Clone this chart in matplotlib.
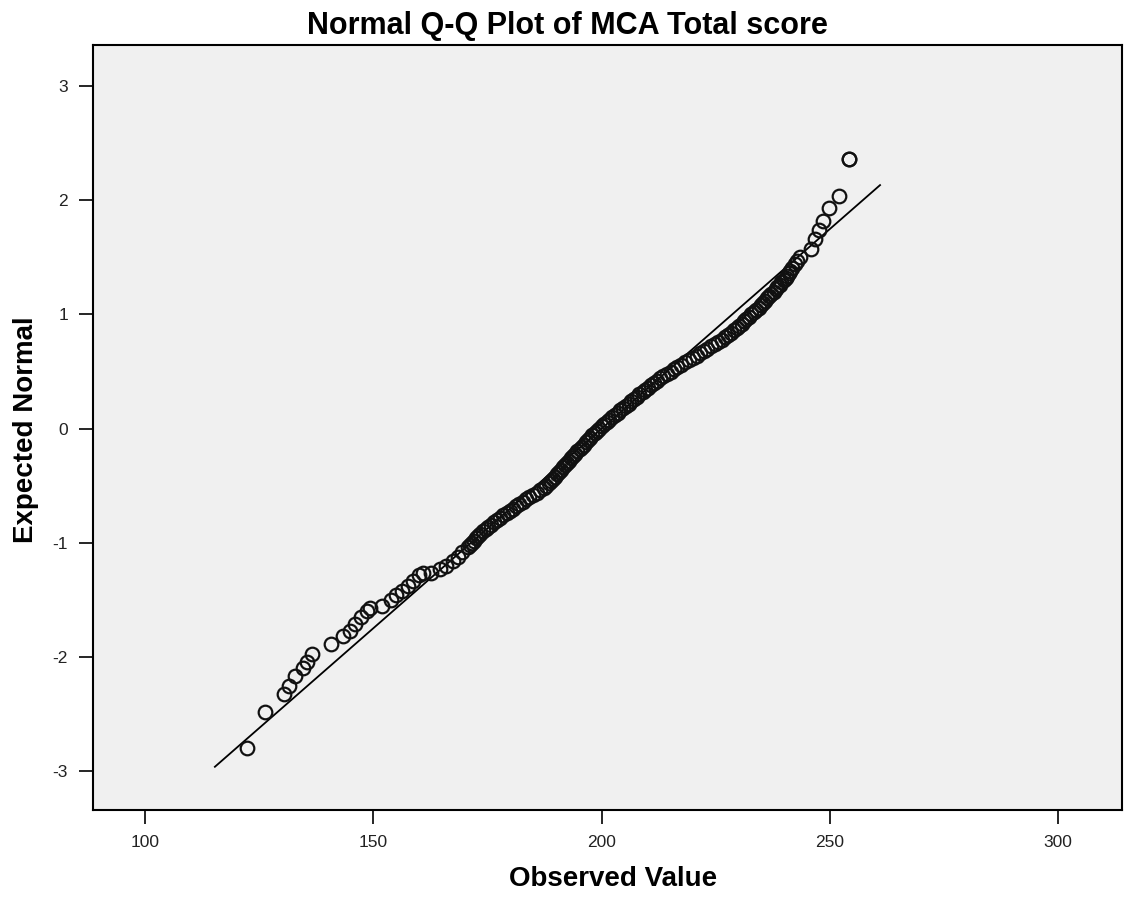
import numpy as np
import matplotlib
matplotlib.use("Agg")
import matplotlib.pyplot as plt

plt.rcParams['axes.unicode_minus'] = False

# observed scores and their expected normal values
observed = [122.3, 126.3, 130.5, 131.5, 132.8, 134.5, 135.4, 136.5, 140.8, 143.3,
            145.0, 146.0, 147.4, 148.6, 149.3, 151.9, 153.8, 155.0, 156.3, 157.6,
            158.8, 160.0, 160.8, 162.6, 164.6, 166.0, 167.4, 168.5, 169.5,
            170.7, 171.2, 171.6, 172.0, 172.4, 172.9, 173.4, 174.0, 174.6, 175.2,
            175.8, 176.5, 177.1, 177.8, 178.5, 179.2, 179.9, 180.6, 181.3, 182.0,
            182.7, 183.4, 184.2, 185.0, 185.8, 186.6, 187.3, 187.9, 188.4, 188.9,
            189.3, 189.8, 190.2, 190.6, 191.1, 191.5, 191.9, 192.4, 192.8, 193.3,
            193.7, 194.2, 194.7, 195.2, 195.7, 196.1, 196.6, 197.0, 197.4, 197.9,
            198.5, 199.0, 199.5, 200.1, 200.6, 201.2, 201.7, 202.3, 202.9, 203.5,
            204.1, 204.7, 205.3, 205.9, 206.5, 207.1, 207.7, 208.3, 209.0, 209.6,
            210.2, 210.8, 211.5, 212.2, 212.8, 213.5, 214.3, 215.1, 215.8, 216.6,
            217.4, 218.3, 219.2, 220.0, 220.8, 221.6, 222.4, 223.2, 224.0, 224.8,
            225.6, 226.4, 227.1, 227.7, 228.4, 229.0, 229.6, 230.1, 230.7, 231.2,
            231.7, 232.3, 232.8, 233.3, 233.8, 234.4, 234.9, 235.4, 235.8, 236.3,
            236.7, 237.2, 237.7, 238.1, 238.5, 239.0, 239.4, 239.9, 240.3, 240.6,
            241.0, 241.3, 241.8, 242.3, 242.9, 243.4,
            245.9, 246.7, 247.6, 248.5, 249.8, 251.9, 254.1, 254.2]
expected = [-2.80, -2.48, -2.32, -2.25, -2.17, -2.10, -2.04, -1.97, -1.89, -1.82,
            -1.77, -1.71, -1.65, -1.60, -1.57, -1.55, -1.50, -1.46, -1.42, -1.38,
            -1.33, -1.28, -1.26, -1.26, -1.23, -1.20, -1.16, -1.12, -1.08,
            -1.04, -1.02, -1.00, -0.98, -0.96, -0.94, -0.92, -0.90, -0.88, -0.86,
            -0.84, -0.82, -0.80, -0.78, -0.76, -0.74, -0.72, -0.70, -0.68, -0.66,
            -0.64, -0.62, -0.60, -0.58, -0.56, -0.54, -0.52, -0.50, -0.48, -0.46,
            -0.44, -0.42, -0.40, -0.38, -0.36, -0.34, -0.32, -0.30, -0.28, -0.26,
            -0.24, -0.22, -0.20, -0.18, -0.16, -0.14, -0.12, -0.10, -0.08, -0.06,
            -0.04, -0.02, 0.00, 0.02, 0.04, 0.06, 0.08, 0.10, 0.12, 0.14,
            0.16, 0.18, 0.20, 0.22, 0.24, 0.26, 0.28, 0.30, 0.32, 0.34,
            0.36, 0.38, 0.40, 0.42, 0.44, 0.46, 0.48, 0.50, 0.52, 0.54,
            0.56, 0.58, 0.60, 0.62, 0.64, 0.66, 0.68, 0.70, 0.72, 0.74,
            0.76, 0.78, 0.80, 0.82, 0.84, 0.86, 0.88, 0.90, 0.92, 0.94,
            0.96, 0.98, 1.00, 1.02, 1.04, 1.06, 1.08, 1.10, 1.12, 1.14,
            1.16, 1.18, 1.20, 1.22, 1.24, 1.26, 1.28, 1.30, 1.32, 1.34,
            1.36, 1.38, 1.41, 1.44, 1.47, 1.50,
            1.57, 1.66, 1.74, 1.82, 1.93, 2.04, 2.36, 2.36]

# reference line: mean and standard deviation of the scores
score_mean = 200.0
score_sd = 28.6
line_x = [115.3, 261.0]

x_ticks = [100, 150, 200, 250, 300]
y_ticks = [-3, -2, -1, 0, 1, 2, 3]

label_font = ['Liberation Sans', 'DejaVu Sans']

fig = plt.figure(figsize=(11.35, 8.98), dpi=100)
ax = fig.add_axes([93 / 1135, 88 / 898, 1029 / 1135, 765 / 898])
ax.set_facecolor('#f0f0f0')

lx = np.array(line_x)
ax.plot(lx, (lx - score_mean) / score_sd, color='black', lw=1.3, zorder=2)
ax.plot(observed, expected, linestyle='none', marker='o', markersize=9.8,
        markerfacecolor='none', markeredgecolor='#111111', markeredgewidth=1.6, zorder=3)

ax.set_xlim(88.6, 314.0)
ax.set_ylim(-3.34, 3.36)
ax.set_xticks(x_ticks)
ax.set_yticks(y_ticks)
ax.tick_params(direction='out', length=10, width=1.2, colors='black',
               labelsize=12.5, labelcolor='#222222', pad=8)
for lab in ax.get_xticklabels() + ax.get_yticklabels():
    lab.set_family(label_font)
for sp in ax.spines.values():
    sp.set_linewidth(1.5)

fig.text(0.5, 1 - 26 / 898, 'Normal Q-Q Plot of MCA Total score', ha='center', va='center',
         fontsize=22, fontweight='bold', family=label_font)
fig.text(613 / 1135, 1 - 879 / 898, 'Observed Value', ha='center', va='center',
         fontsize=20, fontweight='bold', family=label_font)
fig.text(26 / 1135, 1 - 430 / 898, 'Expected Normal', ha='center', va='center',
         rotation=90, fontsize=20, fontweight='bold', family=label_font)

fig.savefig('out.png', dpi=100)
